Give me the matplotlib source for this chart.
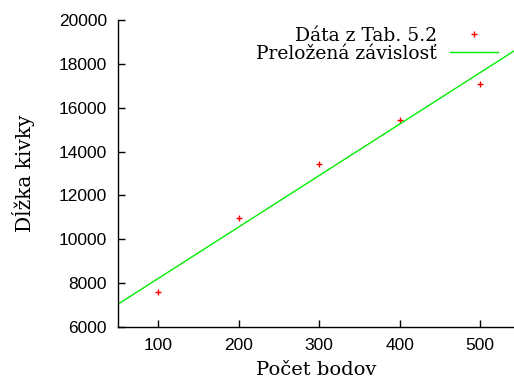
import numpy as np
import matplotlib
matplotlib.use("Agg")
import matplotlib.pyplot as plt

# data
pocet_bodov = [100, 200, 300, 400, 500]
dlzka_kivky = [7600, 10970, 13430, 15440, 17100]

x_ticks = [100, 200, 300, 400, 500]
y_ticks = [6000, 8000, 10000, 12000, 14000, 16000, 18000, 20000]

# fitted line through the data
k, q = np.polyfit(pocet_bodov, dlzka_kivky, 1)
x_fit = np.array([50, 545])

serif = ['DejaVu Serif']
sans = ['Liberation Sans', 'DejaVu Sans']

fig = plt.figure(figsize=(5.14, 3.82), dpi=100)
ax = fig.add_axes([118 / 514, 1 - 327 / 382, 1 - 118 / 514, (327 - 20) / 382])

ax.plot(pocet_bodov, dlzka_kivky, ls='none', marker='+', ms=5, mew=1,
        c='#ff0000', label='Dáta z Tab. 5.2', clip_on=False)
ax.plot(x_fit, k * x_fit + q, c='#00ee00', lw=1, label='Preložená závislosť')

ax.set_xlim(50, 542)
ax.set_ylim(6000, 20000)
ax.set_xticks(x_ticks)
ax.set_yticks(y_ticks)

for s in ['top', 'right']:
    ax.spines[s].set_visible(False)
for s in ['left', 'bottom']:
    ax.spines[s].set_linewidth(1)

ax.tick_params(direction='in', length=5, width=1, labelsize=12.5, pad=8)
for lab in ax.get_xticklabels() + ax.get_yticklabels():
    lab.set_family(sans)

ax.set_xlabel('Počet bodov', family=serif, fontsize=14, labelpad=6)
ax.set_ylabel('Dĺžka kivky', family=serif, fontsize=14.5, labelpad=17)

ax.legend(loc='upper right', bbox_to_anchor=(0.96, 0.977), markerfirst=False,
          frameon=False, prop={'family': serif, 'size': 13.5},
          handlelength=2.56, handletextpad=0.7, labelspacing=0.0,
          borderpad=0, borderaxespad=0)

fig.savefig('out.png', dpi=100)
